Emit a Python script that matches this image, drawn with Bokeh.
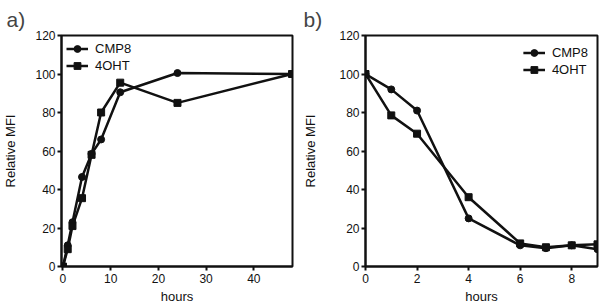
from bokeh.plotting import figure
from bokeh.layouts import row
from bokeh.models import Range1d, FixedTicker, Legend, LegendItem
from bokeh.embed import file_html
from bokeh.resources import INLINE

# panel a) data
a_hours = [0, 1, 2, 4, 6, 8, 12, 24, 48]
a_cmp8 = [0, 11, 23, 46.5, 58.5, 66, 90.5, 100.5, 100]
a_4oht = [0, 9, 21, 35.5, 58, 80, 95.5, 85, 100]

# panel b) data
b_hours = [0, 1, 2, 4, 6, 7, 8, 9]
b_cmp8 = [100, 92, 81, 25, 11, 9.5, 11, 9]
b_4oht = [100, 78.5, 69, 36, 12, 10, 11, 11.5]

a_xticks = [0, 10, 20, 30, 40]
b_xticks = [0, 2, 4, 6, 8]
yticks = [0, 20, 40, 60, 80, 100, 120]

FONT = "Liberation Sans"
INK = "#111111"


def make_panel(tag, hours, cmp8, oht, xr, xticks, left, right, legend_loc, ylab_standoff, lmargin):
    p = figure(width=300, height=306, output_backend="svg", toolbar_location=None,
               x_range=Range1d(*xr), y_range=Range1d(0, 120),
               min_border_left=left, min_border_right=right,
               min_border_top=34, min_border_bottom=38)
    p.title.text = tag
    p.title.align = "left"
    p.title.offset = -left
    p.title.text_font = FONT
    p.title.text_font_size = "21px"
    p.title.text_font_style = "normal"
    p.title.standoff = 10
    p.xgrid.visible = False
    p.ygrid.visible = False
    p.outline_line_color = INK
    p.outline_line_width = 2
    p.background_fill_color = "white"
    p.border_fill_color = "white"
    for ax in (p.xaxis[0], p.yaxis[0]):
        ax.axis_line_color = INK
        ax.axis_line_width = 2
        ax.major_tick_line_color = INK
        ax.major_tick_line_width = 2
        ax.major_tick_out = 4
        ax.major_tick_in = 0
        ax.minor_tick_line_color = None
        ax.major_label_text_font = FONT
        ax.major_label_text_font_size = "12px"
        ax.major_label_text_color = INK
        ax.major_label_standoff = 2
        ax.axis_label_text_font = FONT
        ax.axis_label_text_font_size = "13px"
        ax.axis_label_text_font_style = "normal"
        ax.axis_label_text_color = INK
    p.xaxis[0].ticker = FixedTicker(ticks=xticks)
    p.yaxis[0].ticker = FixedTicker(ticks=yticks)
    p.xaxis[0].axis_label = "hours"
    p.yaxis[0].axis_label = "Relative MFI"
    p.xaxis[0].major_label_standoff = 3
    p.xaxis[0].axis_label_standoff = 3
    p.yaxis[0].axis_label_standoff = ylab_standoff

    l1 = p.line(hours, cmp8, line_color=INK, line_width=2.5)
    s1 = p.scatter(hours, cmp8, marker="circle", size=7, fill_color=INK, line_color=INK)
    l2 = p.line(hours, oht, line_color=INK, line_width=2.5)
    s2 = p.scatter(hours, oht, marker="square", size=7, fill_color=INK, line_color=INK)

    legend = Legend(items=[LegendItem(label="CMP8", renderers=[l1, s1]),
                           LegendItem(label="4OHT", renderers=[l2, s2])],
                    location=legend_loc)
    legend.label_text_font = FONT
    legend.label_text_font_size = "13px"
    legend.label_text_color = INK
    legend.border_line_color = None
    legend.background_fill_alpha = 0
    legend.glyph_width = 22
    legend.glyph_height = 17
    legend.label_height = 17
    legend.spacing = 0
    legend.padding = 0
    legend.margin = lmargin
    legend.label_standoff = 7
    p.add_layout(legend)
    return p


pa = make_panel("a)", a_hours, a_cmp8, a_4oht, (-0.3, 48.1), a_xticks, 55, 8, "top_left", 14, 5)
pb = make_panel("b)", b_hours, b_cmp8, b_4oht, (0, 9), b_xticks, 62, 3, "top_right", 18, 9)

layout = row(pa, pb)
open("out.html", "w").write(file_html(layout, INLINE))
